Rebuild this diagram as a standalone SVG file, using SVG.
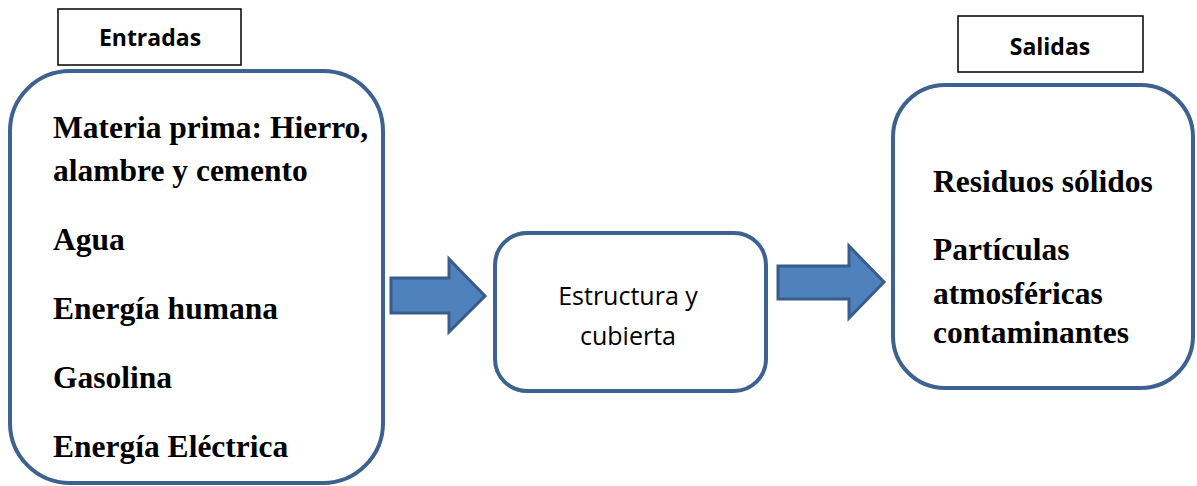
<svg xmlns="http://www.w3.org/2000/svg" width="1197" height="486" viewBox="0 0 1197 486">
<style>
.lbl{fill:#fff;stroke:#000;stroke-width:1.5}
.box{fill:#fff;stroke:#3D6290;stroke-width:4}
.arr{fill:#4F81BD;stroke:#385D8A;stroke-width:3;stroke-linejoin:miter}
.t{font-family:"Liberation Serif","Times New Roman",serif;font-weight:bold;font-size:31.5px;fill:#000}
.h{font-family:"Open Sans","Noto Sans","Liberation Sans",sans-serif;font-weight:bold;font-size:23px;fill:#000;text-anchor:middle}
.m{font-family:"Open Sans","Noto Sans","Liberation Sans",sans-serif;font-size:25px;fill:#000;text-anchor:middle}
</style>
<rect width="1197" height="486" fill="#fff"/>
<g id="entradas-label">
<rect class="lbl" x="58" y="9" width="183" height="56"/>
<text class="h" x="150" y="46">Entradas</text>
</g>
<g id="entradas">
<rect class="box" x="10" y="71" width="373" height="412" rx="60" ry="60"/>
<text class="t" x="53" y="138">Materia prima: Hierro,</text>
<text class="t" x="53" y="181">alambre y cemento</text>
<text class="t" x="53" y="250">Agua</text>
<text class="t" x="53" y="319">Energía humana</text>
<text class="t" x="53" y="388">Gasolina</text>
<text class="t" x="53" y="457">Energía Eléctrica</text>
</g>
<g id="proceso">
<rect class="box" x="495" y="233" width="271" height="158" rx="32" ry="32"/>
<text class="m" x="628" y="305">Estructura y</text>
<text class="m" x="628" y="345">cubierta</text>
</g>
<g id="salidas-label">
<rect class="lbl" x="958" y="16" width="185" height="56"/>
<text class="h" x="1050" y="55">Salidas</text>
</g>
<g id="salidas">
<rect class="box" x="893" y="85" width="300" height="303" rx="52" ry="52"/>
<text class="t" x="933" y="192">Residuos sólidos</text>
<text class="t" x="933" y="260">Partículas</text>
<text class="t" x="933" y="304">atmosféricas</text>
<text class="t" x="933" y="343">contaminantes</text>
</g>
<g id="connectors">
<polygon class="arr" points="391,278 449,278 449,259 485,296 449,332 449,313 391,313"/>
<polygon class="arr" points="778,266 849,266 849,246 884,282 849,318 849,299 778,299"/>
</g>
</svg>
